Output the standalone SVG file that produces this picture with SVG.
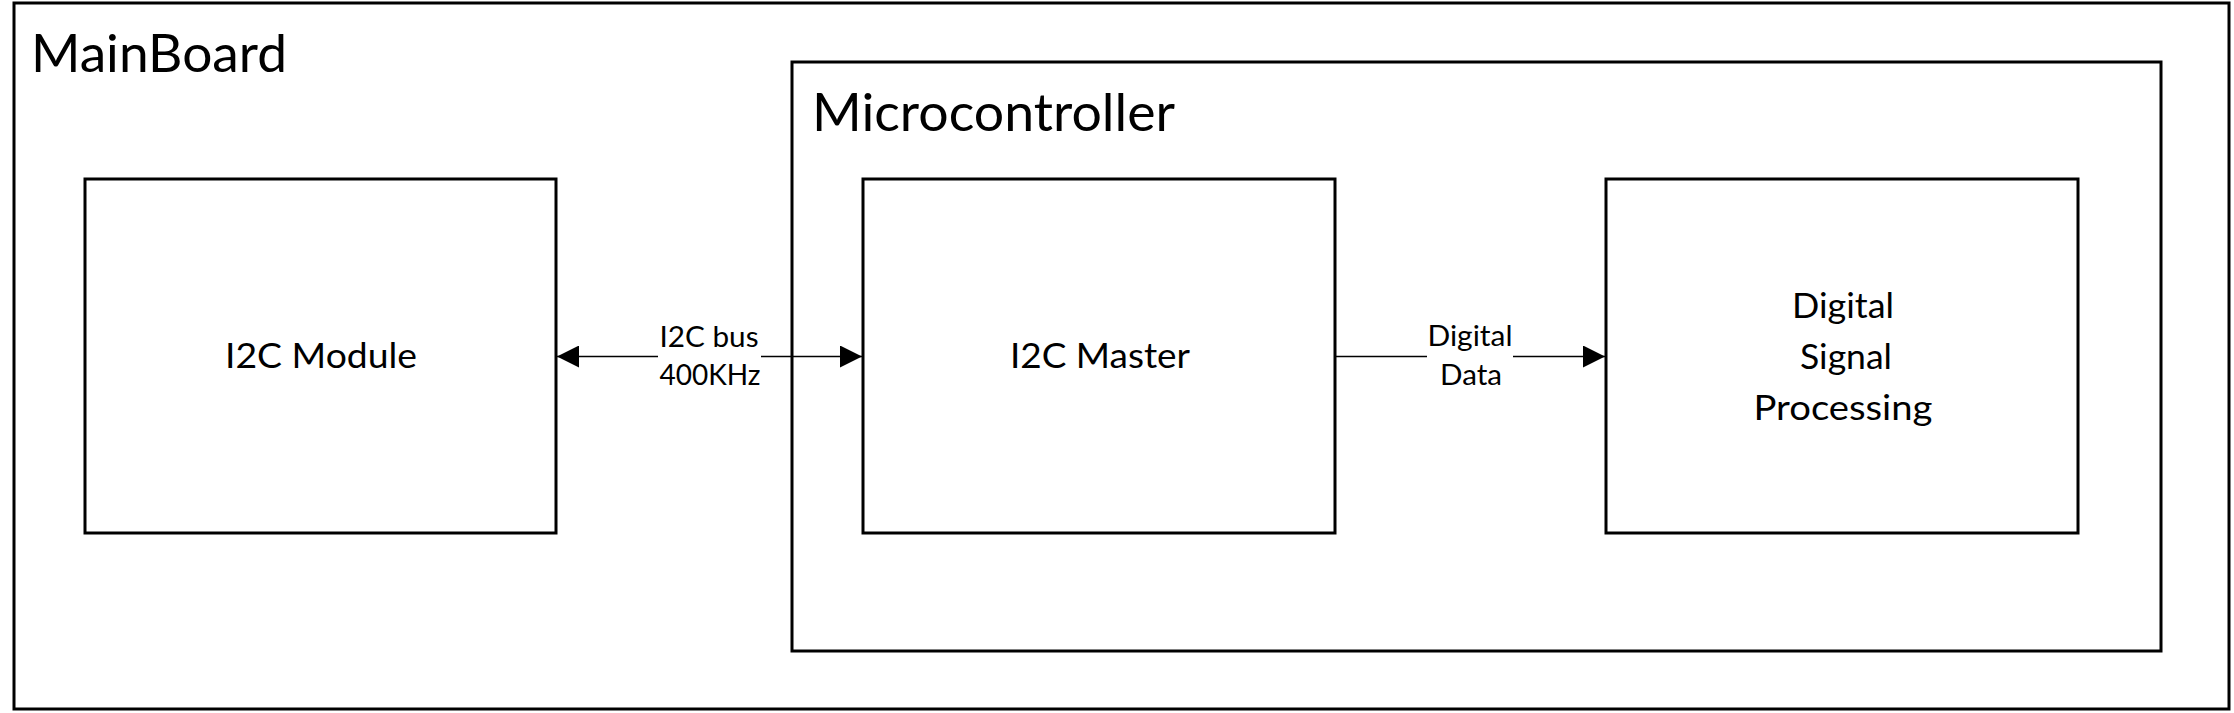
<svg xmlns="http://www.w3.org/2000/svg" width="2234" height="713" viewBox="0 0 2234 713">
<style>
.box{fill:#fff;stroke:#000;stroke-width:3}
.frame{fill:none;stroke:#000;stroke-width:3}
.t{font-family:Lato,"Liberation Sans",sans-serif;fill:#000}
.title{font-size:52px}
.lbl{font-size:35px;text-anchor:middle}
.cl{font-size:28px;text-anchor:middle}
.wire{fill:none;stroke:#000;stroke-width:1.3}
</style>
<defs>
<marker id="ah" viewBox="0 0 22 22" refX="22" refY="11" markerWidth="22" markerHeight="22" markerUnits="userSpaceOnUse" orient="auto-start-reverse">
<path d="M0,0 L22,11 L0,22 Z" fill="#000"/>
</marker>
</defs>
<rect width="2234" height="713" fill="#fff"/>
<g id="mainboard">
<rect class="frame" x="14" y="3" width="2215" height="706"/>
<text class="t title" x="31" y="72" textLength="256" lengthAdjust="spacingAndGlyphs">MainBoard</text>
</g>
<g id="microcontroller">
<rect class="frame" x="792" y="62" width="1369" height="589"/>
<text class="t title" x="812" y="131" textLength="363" lengthAdjust="spacingAndGlyphs">Microcontroller</text>
</g>
<g id="i2c-module">
<rect class="box" x="85" y="179" width="471" height="354"/>
<text class="t lbl" x="321" y="368" textLength="192" lengthAdjust="spacingAndGlyphs">I2C Module</text>
</g>
<g id="i2c-master">
<rect class="box" x="863" y="179" width="472" height="354"/>
<text class="t lbl" x="1100" y="368" textLength="180" lengthAdjust="spacingAndGlyphs">I2C Master</text>
</g>
<g id="dsp">
<rect class="box" x="1606" y="179" width="472" height="354"/>
<text class="t lbl" x="1843" y="318" textLength="102" lengthAdjust="spacingAndGlyphs">Digital</text>
<text class="t lbl" x="1846" y="369" textLength="92" lengthAdjust="spacingAndGlyphs">Signal</text>
<text class="t lbl" x="1843" y="420" textLength="179" lengthAdjust="spacingAndGlyphs">Processing</text>
</g>
<g id="connectors">
<line class="wire" x1="557" y1="356.5" x2="658" y2="356.5" marker-start="url(#ah)"/>
<line class="wire" x1="761" y1="356.5" x2="862" y2="356.5" marker-end="url(#ah)"/>
<text class="t cl" x="709" y="347" textLength="99" lengthAdjust="spacingAndGlyphs">I2C bus</text>
<text class="t cl" x="710" y="385" textLength="101" lengthAdjust="spacingAndGlyphs">400KHz</text>
<line class="wire" x1="1336" y1="356.5" x2="1427" y2="356.5"/>
<line class="wire" x1="1513" y1="356.5" x2="1605" y2="356.5" marker-end="url(#ah)"/>
<text class="t cl" x="1470" y="346" textLength="85" lengthAdjust="spacingAndGlyphs">Digital</text>
<text class="t cl" x="1471" y="385" textLength="62" lengthAdjust="spacingAndGlyphs">Data</text>
</g>
</svg>
